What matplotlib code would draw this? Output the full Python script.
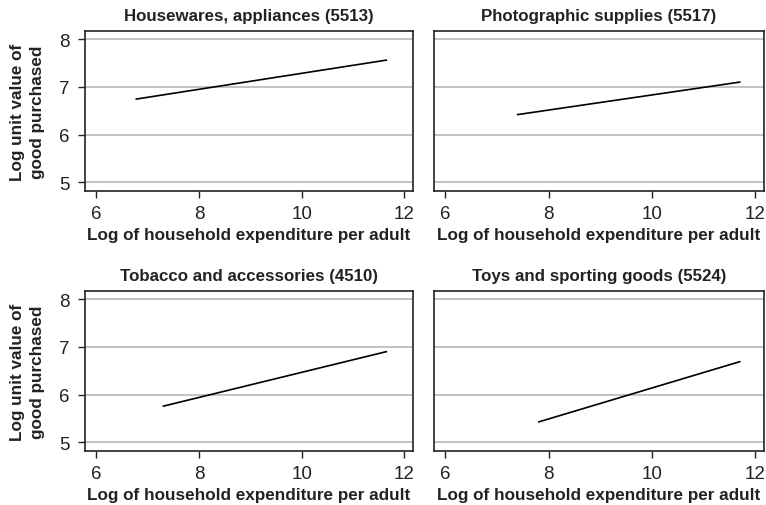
import matplotlib
matplotlib.use('Agg')
import matplotlib.pyplot as plt

plt.rcParams['font.family'] = ['Liberation Sans', 'DejaVu Sans']

# fitted lines: (x start, x end), (y start, y end)
titles = ['Housewares, appliances (5513)', 'Photographic supplies (5517)',
          'Tobacco and accessories (4510)', 'Toys and sporting goods (5524)']
x_start = [6.78, 7.40, 7.31, 7.81]
x_end = [11.65, 11.70, 11.65, 11.70]
y_start = [6.745, 6.42, 5.76, 5.43]
y_end = [7.56, 7.10, 6.90, 6.69]

x_ticks = [6, 8, 10, 12]
y_ticks = [5, 6, 7, 8]

W, H = 766, 506
fig = plt.figure(figsize=(W / 100, H / 100), dpi=100)

# panel boxes in pixels: left, top, right, bottom
boxes = [(85, 32, 413, 192), (434, 32, 764, 192),
         (85, 292, 413, 452), (434, 292, 764, 452)]

for i, (l, t, r, b) in enumerate(boxes):
    ax = fig.add_axes([l / W, 1 - b / H, (r - l) / W, (b - t) / H])
    ax.plot([x_start[i], x_end[i]], [y_start[i], y_end[i]], color='black', lw=1.2)
    ax.set_xlim(5.78, 12.17)
    ax.set_ylim(4.82, 8.17)
    ax.set_xticks(x_ticks)
    ax.set_yticks(y_ticks)
    for y in y_ticks:
        ax.axhline(y, color='#bdbdbd', lw=1.3, zorder=0)
    for s in ax.spines.values():
        s.set_linewidth(1.2)
        s.set_color('#222222')
    ax.tick_params(direction='out', length=5, width=1, labelsize=13.5,
                   colors='#222222')
    ax.tick_params(axis='x', pad=5)
    ax.tick_params(axis='y', pad=6)
    ax.set_title(titles[i], fontsize=12.2, fontweight='bold', pad=8, color='#222222')
    ax.set_xlabel('Log of household expenditure per adult', fontsize=12.3,
                  fontweight='bold', labelpad=4, color='#222222')
    if i % 2 == 0:
        ax.set_ylabel('Log unit value of\ngood purchased', fontsize=12.3,
                      fontweight='bold', labelpad=10, color='#222222',
                      linespacing=1.45)
    else:
        ax.tick_params(axis='y', left=False, labelleft=False)

fig.savefig('out.png', dpi=100)
